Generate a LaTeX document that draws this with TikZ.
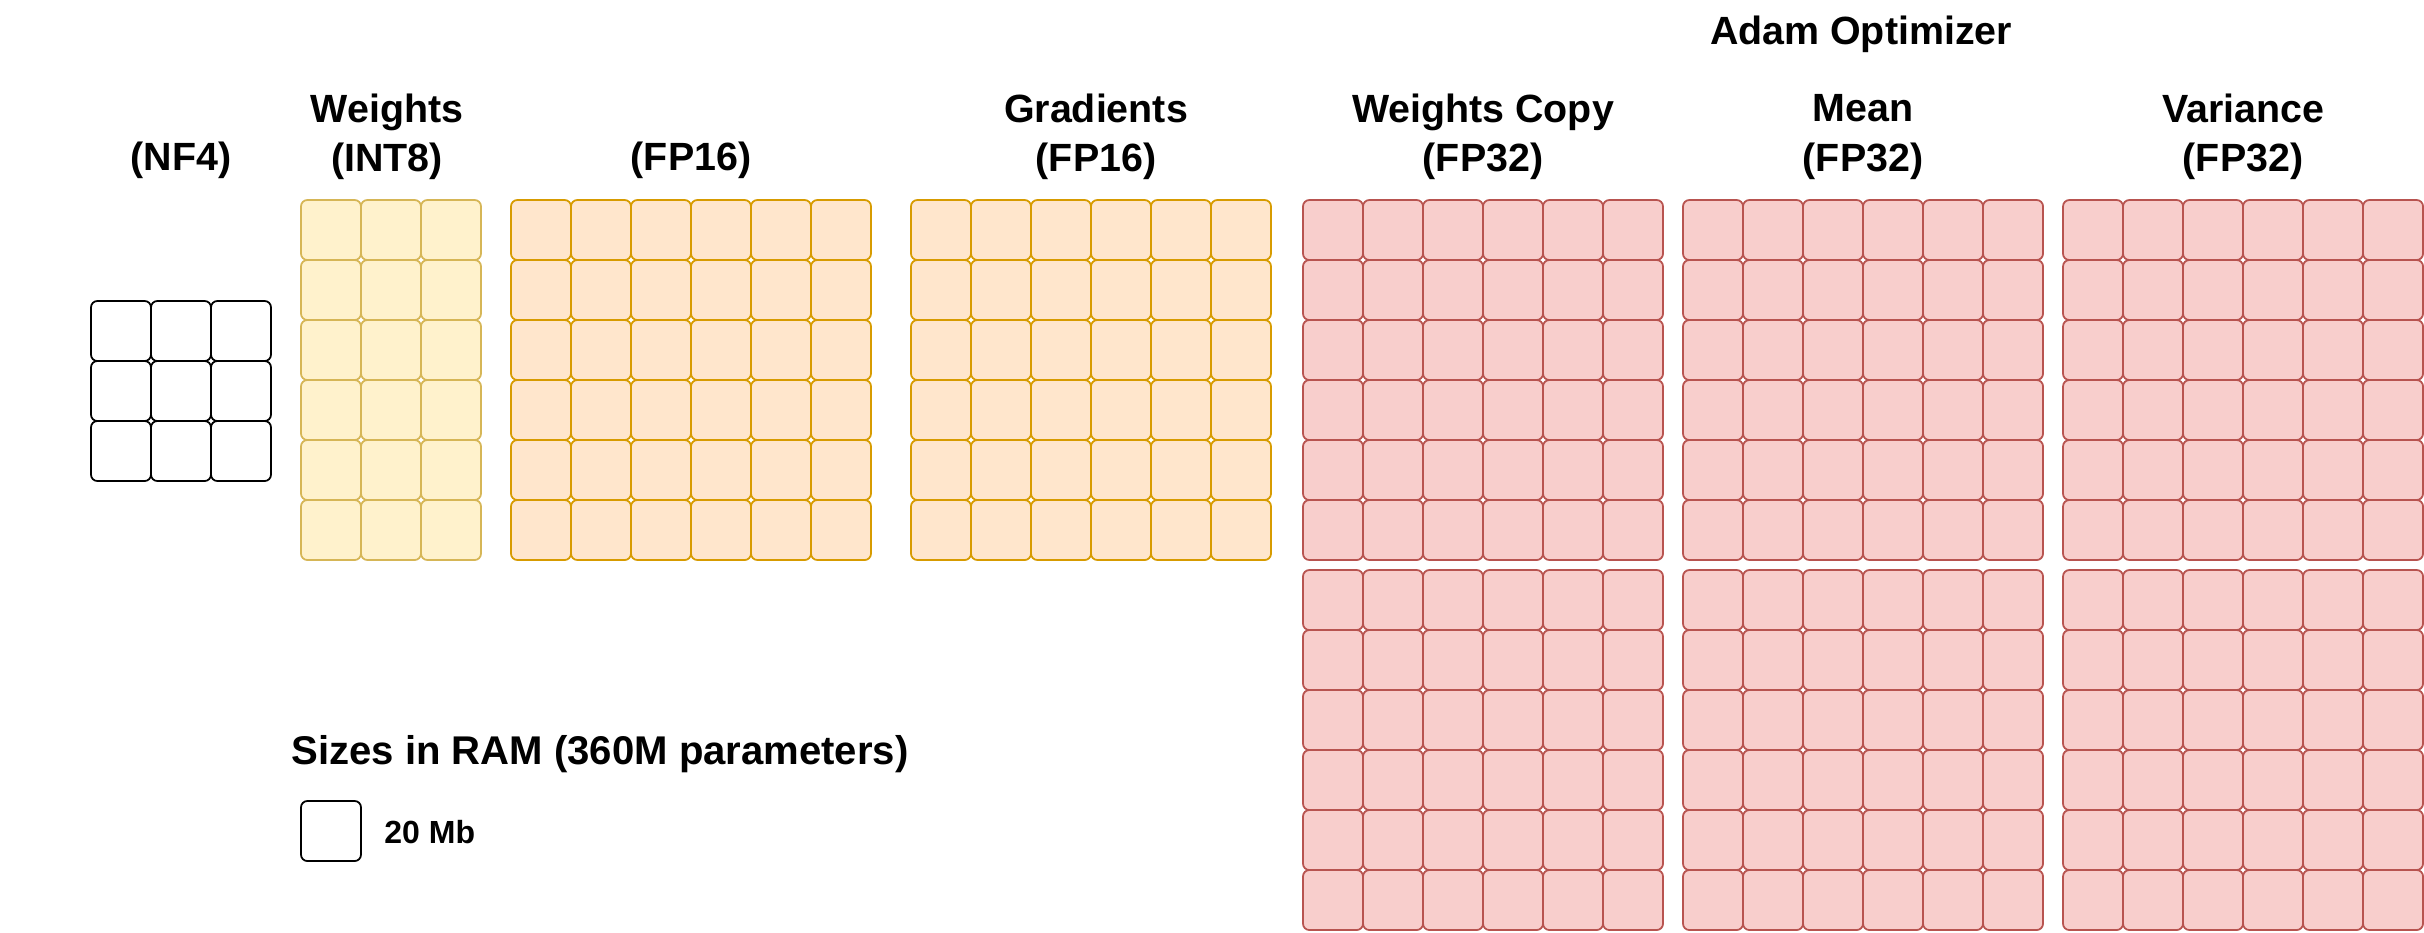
\documentclass[tikz,border=0pt]{standalone}
\usepackage{fontspec}
\setmainfont{Liberation Sans}
\definecolor{intfill}{HTML}{FFF2CC}
\definecolor{intline}{HTML}{D6B656}
\definecolor{halffill}{HTML}{FFE6CC}
\definecolor{halfline}{HTML}{D79B00}
\definecolor{fullfill}{HTML}{F8CECC}
\definecolor{fullline}{HTML}{B85450}
\begin{document}
\begin{tikzpicture}[x=0.01cm, y=-0.01cm,
  cell/.style={line width=0.5pt, rounded corners=1.8pt},
  nfcell/.style={cell, draw=black, fill=white},
  intcell/.style={cell, draw=intline, fill=intfill},
  halfcell/.style={cell, draw=halfline, fill=halffill},
  fullcell/.style={cell, draw=fullline, fill=fullfill},
  title/.style={font=\fontsize{11.2}{14}\selectfont\bfseries, align=center},
  small/.style={font=\fontsize{9.1}{11}\selectfont\bfseries}]
\useasboundingbox (0,0) rectangle (2424,932);

% Top heading
\node[title] (adam) at (1861, 34) {Adam Optimizer};

% Weights (NF4)
\node[title] (nf4) at (181, 160) {(NF4)};
\foreach \c in {0,...,2}
  \foreach \r in {0,...,2}
    \draw[nfcell] (91+60*\c, 301+60*\r) rectangle ++(60,60);

% Weights (INT8)
\node[title] (int8) at (387, 137) {Weights\\(INT8)};
\foreach \c in {0,...,2}
  \foreach \r in {0,...,5}
    \draw[intcell] (301+60*\c, 200+60*\r) rectangle ++(60,60);

% Weights (FP16)
\node[title] (fp16) at (691, 160) {(FP16)};
\foreach \c in {0,...,5}
  \foreach \r in {0,...,5}
    \draw[halfcell] (511+60*\c, 200+60*\r) rectangle ++(60,60);

% Gradients (FP16)
\node[title] (grad) at (1096, 137) {Gradients\\(FP16)};
\foreach \c in {0,...,5}
  \foreach \r in {0,...,5}
    \draw[halfcell] (911+60*\c, 200+60*\r) rectangle ++(60,60);

% Optimizer states (FP32), two blocks each
\node[title] (copy) at (1483, 137) {Weights Copy\\(FP32)};
\node[title] (mean) at (1863, 137) {Mean\\(FP32)};
\node[title] (var) at (2243, 137) {Variance\\(FP32)};
\foreach \x in {1303,1683,2063}
  \foreach \y in {200,570}
    \foreach \c in {0,...,5}
      \foreach \r in {0,...,5}
        \draw[fullcell] (\x+60*\c, \y+60*\r) rectangle ++(60,60);

% Legend
\node[title, font=\fontsize{11.4}{14}\selectfont\bfseries, anchor=west] (sizes) at (279, 754) {Sizes in RAM (360M parameters)};
\draw[nfcell] (301, 801) rectangle (361, 861);
\node[small, anchor=west] (mb) at (372, 832) {20 Mb};

\end{tikzpicture}
\end{document}
